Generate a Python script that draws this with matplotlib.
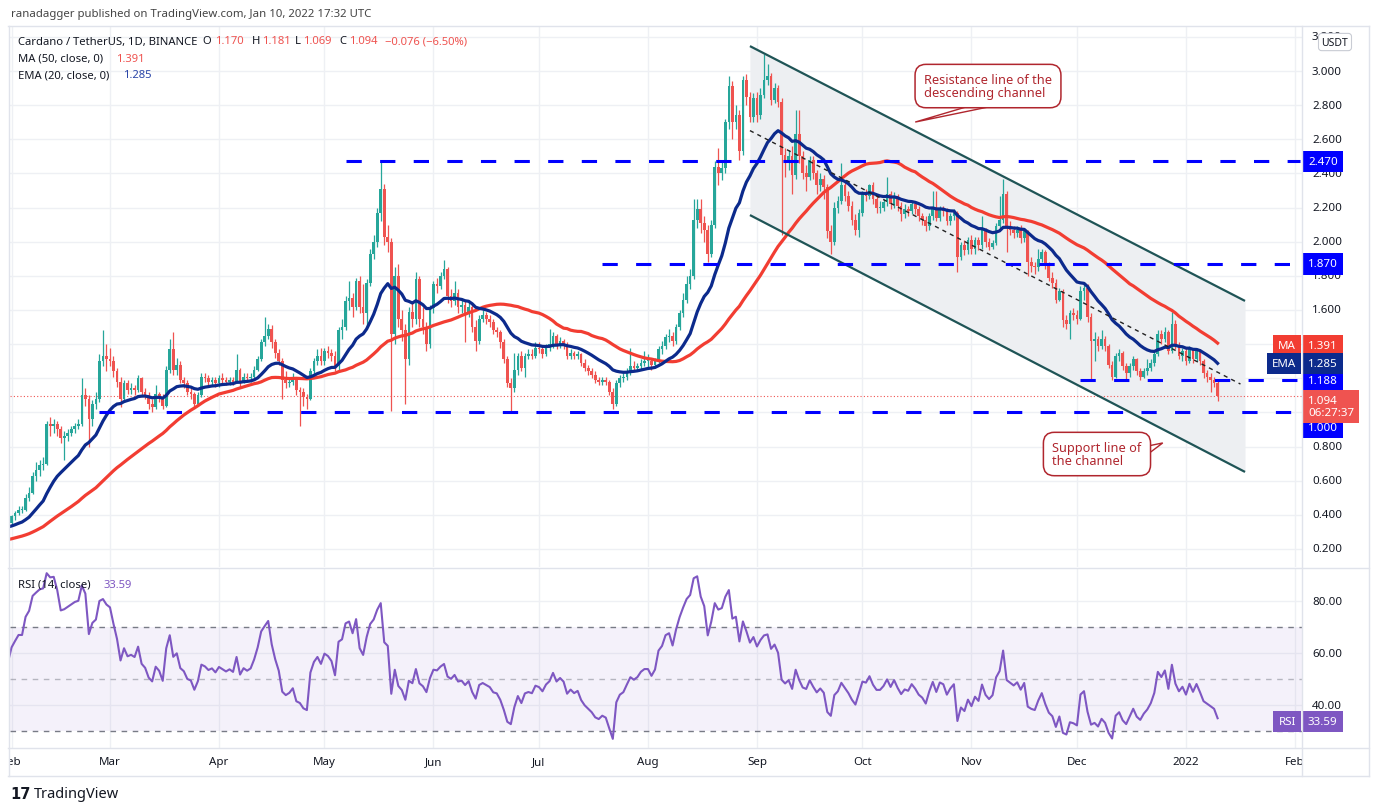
import numpy as np
import pandas as pd
import matplotlib
matplotlib.use("Agg")
import matplotlib.pyplot as plt
import matplotlib.transforms as mtransforms
from matplotlib.lines import Line2D
from matplotlib.patches import Polygon

plt.rcParams['font.family'] = ['Noto Sans', 'DejaVu Sans']

W, H = 1379, 812

# ---- daily ADA/USDT (Binance) ----
# closes before Feb 2021, only used to warm up MA / EMA / RSI
warm_c = [0.160, 0.155, 0.158, 0.150, 0.155, 0.160, 0.152, 0.142, 0.146, 0.141,
          0.136, 0.146, 0.150, 0.150, 0.148, 0.165, 0.168, 0.160, 0.166, 0.160,
          0.150, 0.155, 0.130, 0.145, 0.150, 0.160, 0.162, 0.175, 0.180, 0.185, 0.181,
          0.175, 0.177, 0.205, 0.225, 0.305, 0.330, 0.320, 0.310, 0.315, 0.290,
          0.265, 0.280, 0.305, 0.330, 0.320, 0.370, 0.370, 0.385, 0.350, 0.320,
          0.290, 0.340, 0.340, 0.345, 0.315, 0.345, 0.325, 0.375, 0.360, 0.345, 0.350]

feb_c = [0.39, 0.41, 0.43, 0.43, 0.50, 0.53, 0.63, 0.66, 0.69, 0.70,
         0.93, 0.92, 0.93, 0.90, 0.85, 0.86, 0.88, 0.90, 0.92, 0.93,
         1.10, 1.08, 0.96, 1.05, 1.08, 1.30, 1.33, 1.31]
feb_h = [0.40, 0.42, 0.45, 0.45, 0.52, 0.56, 0.65, 0.71, 0.72, 0.74,
         0.95, 0.97, 0.96, 0.95, 0.92, 0.89, 0.90, 0.92, 0.94, 0.96,
         1.20, 1.14, 1.10, 1.07, 1.12, 1.34, 1.48, 1.40]
feb_l = [0.34, 0.37, 0.40, 0.41, 0.42, 0.48, 0.52, 0.60, 0.63, 0.66,
         0.69, 0.86, 0.88, 0.86, 0.82, 0.72, 0.83, 0.86, 0.88, 0.90,
         0.92, 1.04, 0.80, 0.92, 1.02, 1.06, 1.27, 1.24]

mar_c = [1.30, 1.24, 1.18, 1.08, 1.17, 1.13, 1.14, 1.13, 1.20, 1.12,
         1.10, 1.05, 1.03, 1.11, 1.09, 1.04, 1.25, 1.37, 1.25, 1.28,
         1.19, 1.17, 1.12, 1.11, 1.05, 1.10, 1.21, 1.20, 1.18, 1.19, 1.17]
mar_h = [1.38, 1.33, 1.26, 1.21, 1.19, 1.19, 1.17, 1.16, 1.22, 1.21,
         1.14, 1.12, 1.08, 1.16, 1.12, 1.11, 1.27, 1.43, 1.47, 1.32,
         1.30, 1.21, 1.19, 1.14, 1.12, 1.12, 1.23, 1.23, 1.22, 1.21, 1.21]
mar_l = [1.27, 1.21, 1.15, 1.03, 1.06, 1.11, 1.11, 1.10, 1.12, 1.10,
         1.08, 1.02, 1.00, 1.02, 1.06, 1.02, 1.03, 1.23, 1.22, 1.22,
         1.17, 1.14, 1.10, 1.08, 1.03, 1.04, 1.09, 1.18, 1.16, 1.16, 1.15]

apr_c = [1.20, 1.19, 1.18, 1.19, 1.18, 1.25, 1.18, 1.21, 1.20, 1.21,
         1.25, 1.31, 1.41, 1.45, 1.49, 1.41, 1.35, 1.30, 1.19, 1.17,
         1.18, 1.20, 1.13, 1.12, 1.09, 1.08, 1.24, 1.30, 1.33, 1.30]
apr_h = [1.22, 1.23, 1.21, 1.21, 1.21, 1.34, 1.26, 1.23, 1.23, 1.23,
         1.27, 1.33, 1.43, 1.56, 1.52, 1.51, 1.43, 1.37, 1.32, 1.24,
         1.21, 1.23, 1.21, 1.15, 1.14, 1.11, 1.26, 1.32, 1.37, 1.38]
apr_l = [1.15, 1.17, 1.16, 1.16, 1.16, 1.17, 1.15, 1.17, 1.18, 1.18,
         1.20, 1.24, 1.30, 1.39, 1.43, 1.38, 1.32, 1.28, 1.08, 1.14,
         1.15, 1.16, 1.10, 0.92, 1.04, 1.02, 1.07, 1.22, 1.28, 1.28]

may_c = [1.36, 1.35, 1.33, 1.27, 1.48, 1.50, 1.65, 1.67, 1.62, 1.77,
         1.62, 1.58, 1.76, 1.93, 2.00, 2.17, 2.31, 2.03, 2.00, 1.46,
         1.80, 1.55, 1.48, 1.31, 1.59, 1.55, 1.78, 1.55, 1.50, 1.40, 1.61]
may_h = [1.38, 1.39, 1.37, 1.36, 1.50, 1.55, 1.68, 1.77, 1.70, 1.79,
         1.80, 1.75, 1.78, 1.96, 2.04, 2.20, 2.47, 2.34, 2.10, 2.02,
         1.85, 1.87, 1.60, 1.52, 1.62, 1.65, 1.82, 1.80, 1.62, 1.53, 1.63]
may_l = [1.28, 1.32, 1.30, 1.24, 1.25, 1.43, 1.48, 1.60, 1.56, 1.60,
         1.58, 1.52, 1.50, 1.74, 1.90, 1.97, 2.12, 1.98, 1.94, 1.01,
         1.40, 1.50, 1.42, 1.05, 1.28, 1.50, 1.52, 1.50, 1.46, 1.36, 1.38]

jun_c = [1.75, 1.74, 1.80, 1.84, 1.68, 1.65, 1.70, 1.62, 1.63, 1.58,
         1.62, 1.50, 1.42, 1.55, 1.57, 1.55, 1.53, 1.48, 1.47, 1.41,
         1.31, 1.17, 1.14, 1.25, 1.33, 1.26, 1.33, 1.34, 1.33, 1.38]
jun_h = [1.77, 1.79, 1.82, 1.89, 1.85, 1.72, 1.77, 1.72, 1.67, 1.65,
         1.65, 1.64, 1.54, 1.57, 1.60, 1.59, 1.57, 1.55, 1.50, 1.48,
         1.43, 1.33, 1.20, 1.35, 1.35, 1.36, 1.35, 1.37, 1.37, 1.41]
jun_l = [1.58, 1.70, 1.72, 1.78, 1.64, 1.62, 1.63, 1.58, 1.58, 1.41,
         1.56, 1.47, 1.36, 1.40, 1.53, 1.52, 1.50, 1.46, 1.44, 1.38,
         1.29, 1.15, 1.00, 1.12, 1.22, 1.24, 1.21, 1.31, 1.31, 1.32]

jul_c = [1.37, 1.34, 1.38, 1.40, 1.45, 1.40, 1.42, 1.40, 1.33, 1.35,
         1.33, 1.34, 1.29, 1.26, 1.24, 1.22, 1.19, 1.18, 1.19, 1.18,
         1.12, 1.05, 1.17, 1.20, 1.21, 1.24, 1.27, 1.26, 1.27, 1.29, 1.30]
jul_h = [1.41, 1.39, 1.40, 1.49, 1.47, 1.46, 1.44, 1.43, 1.41, 1.37,
         1.36, 1.36, 1.35, 1.31, 1.28, 1.26, 1.24, 1.21, 1.21, 1.21,
         1.19, 1.14, 1.19, 1.22, 1.23, 1.26, 1.38, 1.30, 1.29, 1.31, 1.36]
jul_l = [1.35, 1.32, 1.33, 1.36, 1.38, 1.37, 1.38, 1.37, 1.31, 1.31,
         1.31, 1.31, 1.27, 1.24, 1.22, 1.20, 1.17, 1.16, 1.16, 1.16,
         1.10, 1.02, 1.04, 1.15, 1.18, 1.19, 1.22, 1.24, 1.24, 1.25, 1.27]

aug_c = [1.30, 1.28, 1.30, 1.37, 1.39, 1.44, 1.45, 1.42, 1.50, 1.58,
         1.66, 1.75, 1.80, 2.13, 2.19, 2.11, 2.07, 1.93, 2.10, 2.44,
         2.40, 2.43, 2.70, 2.91, 2.70, 2.74, 2.53, 2.95, 2.85, 2.73, 2.84]
aug_h = [1.34, 1.32, 1.32, 1.39, 1.42, 1.46, 1.49, 1.47, 1.52, 1.60,
         1.70, 1.80, 1.84, 2.25, 2.25, 2.25, 2.15, 2.10, 2.13, 2.47,
         2.55, 2.48, 2.72, 2.97, 2.94, 2.80, 2.77, 2.97, 2.98, 2.88, 2.87]
aug_l = [1.26, 1.25, 1.26, 1.29, 1.34, 1.37, 1.41, 1.39, 1.40, 1.48,
         1.56, 1.64, 1.72, 1.78, 2.08, 2.05, 2.00, 1.88, 1.91, 2.08,
         2.33, 2.36, 2.40, 2.66, 2.60, 2.66, 2.48, 2.51, 2.80, 2.70, 2.70]

sep_c = [2.74, 2.86, 2.95, 2.97, 2.83, 2.90, 2.82, 2.51, 2.46, 2.50,
         2.39, 2.63, 2.50, 2.40, 2.38, 2.48, 2.40, 2.33, 2.37, 2.32,
         2.06, 2.00, 2.20, 2.24, 2.33, 2.27, 2.21, 2.13, 2.07, 2.17]
sep_h = [2.88, 2.90, 3.10, 3.04, 2.99, 2.93, 2.92, 2.84, 2.55, 2.54,
         2.56, 2.77, 2.77, 2.53, 2.45, 2.50, 2.50, 2.42, 2.40, 2.39,
         2.34, 2.10, 2.23, 2.27, 2.46, 2.35, 2.30, 2.24, 2.16, 2.19]
sep_l = [2.70, 2.72, 2.84, 2.92, 2.80, 2.81, 2.79, 2.04, 2.38, 2.42,
         2.28, 2.37, 2.46, 2.37, 2.30, 2.36, 2.37, 2.28, 2.30, 2.25,
         2.02, 1.93, 1.98, 2.17, 2.22, 2.24, 2.18, 2.10, 2.04, 2.03]

oct_c = [2.28, 2.27, 2.33, 2.25, 2.20, 2.20, 2.23, 2.28, 2.22, 2.27,
         2.21, 2.16, 2.19, 2.18, 2.22, 2.19, 2.15, 2.13, 2.09, 2.15,
         2.20, 2.14, 2.19, 2.18, 2.12, 2.15, 2.17, 1.91, 1.98, 1.95, 2.01]
oct_h = [2.30, 2.31, 2.34, 2.35, 2.27, 2.24, 2.25, 2.38, 2.30, 2.29,
         2.28, 2.23, 2.22, 2.21, 2.24, 2.23, 2.21, 2.17, 2.15, 2.17,
         2.30, 2.30, 2.21, 2.21, 2.20, 2.17, 2.19, 2.18, 2.00, 2.01, 2.03]
oct_l = [2.15, 2.24, 2.25, 2.22, 2.17, 2.17, 2.18, 2.21, 2.19, 2.20,
         2.18, 2.12, 2.14, 2.15, 2.16, 2.16, 2.12, 2.10, 2.06, 2.07,
         2.13, 2.12, 2.12, 2.15, 2.10, 2.10, 2.13, 1.82, 1.89, 1.92, 1.93]

nov_c = [1.96, 2.01, 1.98, 2.07, 2.00, 1.97, 1.99, 2.09, 2.13, 2.28,
         2.09, 2.07, 2.05, 2.07, 2.02, 2.06, 1.88, 1.86, 1.85, 1.90,
         1.94, 1.86, 1.79, 1.76, 1.66, 1.71, 1.54, 1.52, 1.58, 1.57]
nov_h = [2.04, 2.03, 2.03, 2.15, 2.08, 2.02, 2.01, 2.11, 2.27, 2.37,
         2.30, 2.12, 2.09, 2.09, 2.10, 2.08, 2.07, 1.91, 1.88, 1.96,
         1.96, 1.95, 1.88, 1.82, 1.78, 1.73, 1.72, 1.57, 1.60, 1.61]
nov_l = [1.93, 1.93, 1.95, 1.96, 1.97, 1.95, 1.96, 1.98, 2.07, 2.11,
         1.94, 2.04, 2.02, 2.03, 1.99, 2.00, 1.80, 1.82, 1.81, 1.83,
         1.88, 1.84, 1.77, 1.73, 1.64, 1.65, 1.50, 1.49, 1.43, 1.54]

dec_c = [1.55, 1.71, 1.73, 1.56, 1.42, 1.43, 1.39, 1.43, 1.39, 1.28,
         1.21, 1.33, 1.35, 1.27, 1.23, 1.27, 1.31, 1.24, 1.21, 1.24,
         1.26, 1.29, 1.34, 1.46, 1.43, 1.47, 1.36, 1.52, 1.39, 1.33, 1.36]
dec_h = [1.60, 1.74, 1.76, 1.75, 1.58, 1.47, 1.45, 1.48, 1.45, 1.40,
         1.30, 1.35, 1.37, 1.36, 1.29, 1.29, 1.33, 1.32, 1.26, 1.26,
         1.31, 1.31, 1.36, 1.48, 1.48, 1.50, 1.48, 1.59, 1.54, 1.41, 1.38]
dec_l = [1.52, 1.54, 1.66, 1.53, 1.19, 1.30, 1.36, 1.37, 1.36, 1.26,
         1.19, 1.20, 1.30, 1.25, 1.19, 1.21, 1.25, 1.22, 1.19, 1.20,
         1.22, 1.24, 1.27, 1.33, 1.40, 1.41, 1.34, 1.35, 1.37, 1.31, 1.30]

jan_c = [1.30, 1.37, 1.31, 1.36, 1.30, 1.23, 1.21, 1.19, 1.170, 1.094]
jan_h = [1.38, 1.39, 1.38, 1.38, 1.37, 1.31, 1.25, 1.23, 1.21, 1.181]
jan_l = [1.28, 1.29, 1.29, 1.30, 1.28, 1.20, 1.18, 1.12, 1.15, 1.069]

closes = feb_c + mar_c + apr_c + may_c + jun_c + jul_c + aug_c + sep_c + oct_c + nov_c + dec_c + jan_c
highs = feb_h + mar_h + apr_h + may_h + jun_h + jul_h + aug_h + sep_h + oct_h + nov_h + dec_h + jan_h
lows = feb_l + mar_l + apr_l + may_l + jun_l + jul_l + aug_l + sep_l + oct_l + nov_l + dec_l + jan_l

# values printed on the chart
last_ohlc = ['1.170', '1.181', '1.069', '1.094']
last_change = '\u22120.076 (\u22126.50%)'
ma_last, ema_last, rsi_last = 1.391, 1.285, 33.59
countdown = '06:27:37'

# drawn horizontal levels and the day each one starts
levels = [2.470, 1.870, 1.188, 1.000]
level_start = [95, 168, 304, 25]

# parallel channel (day, price) and its median
chan_x = [210.0, 350.8]
chan_top = [3.146, 1.653]
chan_bot = [2.156, 0.651]
mid_x = [210.0, 349.5]
mid_y = [2.651, 1.166]

# price scale labels that the tags hide completely
hidden_ticks = [1.0, 1.2, 1.4]

GREEN, RED = '#26a69a', '#ef5350'
MA_COL, EMA_COL = '#f23d32', '#0c2a8c'
LVL = '#0000ff'
DARK = '#131722'
GRID = '#eef0f4'
PURPLE = '#7e57c2'
NOTE = '#b0262e'

# ---- indicators ----
nw = len(warm_c)
n = len(closes)
full = pd.Series(warm_c + closes)
ma50 = full.rolling(50).mean().to_numpy()
ema20 = full.ewm(span=20, adjust=False).mean().to_numpy()
delta = full.diff()
gain = delta.clip(lower=0).ewm(alpha=1 / 14, adjust=False).mean()
loss = (-delta.clip(upper=0)).ewm(alpha=1 / 14, adjust=False).mean()
rsi = (100 - 100 / (1 + gain / loss)).to_numpy()
xfull = np.arange(-nw, n)
opens = full.shift(1).to_numpy()[nw:]

dates = pd.date_range('2021-02-01', periods=n, freq='D')
month_starts = pd.date_range('2021-02-01', '2022-02-01', freq='MS')
month_days = [(d - dates[0]).days for d in month_starts]
month_lbls = [str(d.year) if d.month == 1 else d.strftime('%b') for d in month_starts]

# ---- figure layout (pixel based) ----
fig = plt.figure(figsize=(W / 100, H / 100), dpi=100)
fig.patch.set_facecolor('white')


def box(x0, y0, x1, y1):
    return [x0 / W, 1 - y1 / H, (x1 - x0) / W, (y1 - y0) / H]


ax = fig.add_axes(box(10, 28, 1302, 568))
pax = fig.add_axes(box(1302, 28, 1369, 568))
rax = fig.add_axes(box(10, 569, 1302, 749))
rpax = fig.add_axes(box(1302, 569, 1369, 749))
tax = fig.add_axes(box(10, 749, 1302, 776))

xlim = (-0.43, 367.0)
ylim = (0.094, 3.258)
rlim = (23.46, 92.7)

for a in (ax, rax, tax):
    a.set_xlim(xlim)
ax.set_ylim(ylim)
pax.set_ylim(ylim)
pax.set_xlim(0, 67)
rax.set_ylim(rlim)
rpax.set_ylim(rlim)
rpax.set_xlim(0, 67)
tax.set_ylim(0, 1)
for a in (ax, pax, rax, rpax, tax):
    a.set_xticks([])
    a.set_yticks([])
    for s in a.spines.values():
        s.set_visible(False)

# grid
price_ticks = np.round(np.arange(0.2, 3.21, 0.2), 1)
for d in month_days:
    ax.axvline(d, color=GRID, lw=1, zorder=0)
    rax.axvline(d, color=GRID, lw=1, zorder=0)
for t in price_ticks:
    ax.axhline(t, color=GRID, lw=1, zorder=0)
for t in (40, 60, 80):
    rax.axhline(t, color=GRID, lw=1, zorder=0)

# channel
ax.fill_between(chan_x, chan_bot, chan_top, color='#edeff2', lw=0, zorder=0.5)
ax.plot(chan_x, chan_top, color='#1f5456', lw=1.6, zorder=4, solid_capstyle='butt')
ax.plot(chan_x, chan_bot, color='#1f5456', lw=1.6, zorder=4, solid_capstyle='butt')
ax.plot(mid_x, mid_y, color='#222222', lw=1, ls=(0, (3, 3)), zorder=4)

# candles
x = np.arange(n)
c = np.array(closes)
o = np.array(opens)
cols = np.where(c >= o, GREEN, RED)
ax.vlines(x, lows, highs, colors=cols, lw=0.9, zorder=2)
ax.bar(x, np.maximum(np.abs(c - o), 0.006), bottom=np.minimum(o, c), width=0.76,
       color=cols, lw=0, zorder=2.1)

# moving averages
ax.plot(xfull, ma50, color=MA_COL, lw=2.3, zorder=3)
ax.plot(xfull, ema20, color=EMA_COL, lw=2.3, zorder=3)

# levels
for v, s in zip(levels, level_start):
    ax.plot([s, xlim[1] - 0.5], [v, v], color=LVL, lw=2.2, ls=(0, (5, 6)), zorder=4)

ax.axhline(c[-1], color=RED, lw=0.8, ls=(0, (1, 2)), zorder=1.5)

# callouts
ax.add_patch(Polygon([(273.2, 2.80), (280.3, 2.80), (257.0, 2.701)], closed=True,
                     fc='white', ec=NOTE, lw=1, zorder=5))
ax.text(259.5, 2.912, 'Resistance line of the\ndescending channel', color=NOTE,
        fontsize=9.2, ha='left', va='center', linespacing=0.95, zorder=6,
        bbox=dict(boxstyle='round,pad=0.7,rounding_size=0.85', fc='white', ec=NOTE, lw=1.1))
ax.add_patch(Polygon([(322.5, 0.80), (327.4, 0.821), (322.5, 0.745)], closed=True,
                     fc='white', ec=NOTE, lw=1, zorder=5))
ax.text(296.0, 0.756, 'Support line of\nthe channel', color=NOTE,
        fontsize=9.2, ha='left', va='center', linespacing=0.95, zorder=6,
        bbox=dict(boxstyle='round,pad=0.7,rounding_size=0.85', fc='white', ec=NOTE, lw=1.1))

# price scale
for t in price_ticks:
    if t in hidden_ticks:
        continue
    pax.text(10, t, f'{t:.3f}', fontsize=8.3, color=DARK, ha='left', va='center')
pax.text(33, 3.17, 'USDT', fontsize=7.5, color=DARK, ha='center', va='center', zorder=10,
         bbox=dict(boxstyle='round,pad=0.3', fc='white', ec='#c9ccd4', lw=0.8))


def tag(a, xp, y, s, fc, dy=0.0, ha='left'):
    tr = a.transData + mtransforms.ScaledTranslation(0, dy / 100, fig.dpi_scale_trans)
    a.text(xp, y, s, transform=tr, fontsize=8.3, color='white', ha=ha, va='center',
           fontweight='bold', linespacing=1.1, zorder=8, clip_on=False,
           bbox=dict(boxstyle='square,pad=0.45', fc=fc, ec='none'))


tag(pax, 6, levels[0], f'{levels[0]:.3f}', LVL)
tag(pax, 6, levels[1], f'{levels[1]:.3f}', LVL)
tag(pax, 6, levels[2], f'{levels[2]:.3f}', LVL)
tag(pax, 6, levels[3], f'{levels[3]:.3f}', LVL, dy=-15)
tag(pax, 6, ma_last, f'{ma_last:.3f}', MA_COL)
tag(pax, 6, ema_last, f'{ema_last:.3f}', EMA_COL)
tag(pax, 6, c[-1], f'{last_ohlc[3]}\n{countdown}', RED, dy=-10)
tag(pax, -6, ma_last, 'MA', MA_COL, ha='right')
tag(pax, -6, ema_last, 'EMA', EMA_COL, ha='right')

# RSI pane
rax.axhspan(30, 70, color=PURPLE, alpha=0.08, lw=0, zorder=0.5)
rax.axhline(70, color='#787b86', lw=1, ls=(0, (4, 4)), zorder=1)
rax.axhline(30, color='#787b86', lw=1, ls=(0, (4, 4)), zorder=1)
rax.axhline(50, color='#787b86', lw=1, ls=(0, (4, 4)), alpha=0.5, zorder=1)
rax.plot(xfull, rsi, color=PURPLE, lw=1.5, zorder=3)
for t in (40, 60, 80):
    rpax.text(10, t, f'{t:.2f}', fontsize=8.3, color=DARK, ha='left', va='center')
tag(rpax, 6, rsi_last, f'{rsi_last:.2f}', PURPLE)
tag(rpax, -6, rsi_last, 'RSI', PURPLE, ha='right')

# time axis
for d, lbl in zip(month_days, month_lbls):
    tax.text(d, 0.5, lbl, fontsize=8.3, color=DARK, ha='center', va='center', clip_on=True,
             fontweight='bold' if lbl.isdigit() else 'normal')


# frame lines
def fline(xs, ys, col='#e0e3eb'):
    fig.add_artist(Line2D([v / W for v in xs], [1 - v / H for v in ys], color=col, lw=1,
                          transform=fig.transFigure))


fline([8, 1369], [27, 27])
fline([8, 1369], [777, 777])
fline([8.5, 8.5], [27, 777])
fline([1369, 1369], [27, 777])
fline([1302, 1302], [27, 777])
fline([8, 1369], [569, 569])
fline([8, 1369], [749, 749])


# header / legend texts
def ftxt(px, py, s, **kw):
    kw.setdefault('fontsize', 8.1)
    kw.setdefault('color', DARK)
    fig.text(px / W, 1 - py / H, s, ha='left', va='center', **kw)


ftxt(11, 15, 'ranadagger published on TradingView.com, Jan 10, 2022 17:32 UTC', color='#444444', fontsize=8.2)
ftxt(18, 42, 'Cardano / TetherUS, 1D, BINANCE')
for lab, px_l, val, px_v in zip(['O', 'H', 'L', 'C'], [202, 252, 295, 339],
                               last_ohlc, [215, 262, 303, 349]):
    ftxt(px_l, 42, lab)
    ftxt(px_v, 42, val, color=RED)
ftxt(385, 42, last_change, color=RED)
ftxt(18, 59, 'MA (50, close, 0)')
ftxt(116, 59, f'{ma_last:.3f}', color=RED)
ftxt(18, 76, 'EMA (20, close, 0)')
ftxt(123, 76, f'{ema_last:.3f}', color='#2b46a8')
ftxt(18, 585, 'RSI (14, close)')
ftxt(103, 585, f'{rsi_last:.2f}', color=PURPLE)

ftxt(10, 795, '17', fontsize=10.5, fontweight='bold', family='DejaVu Sans')
ftxt(34, 795, 'TradingView', fontsize=10.5)

fig.savefig('out.png', dpi=100)
